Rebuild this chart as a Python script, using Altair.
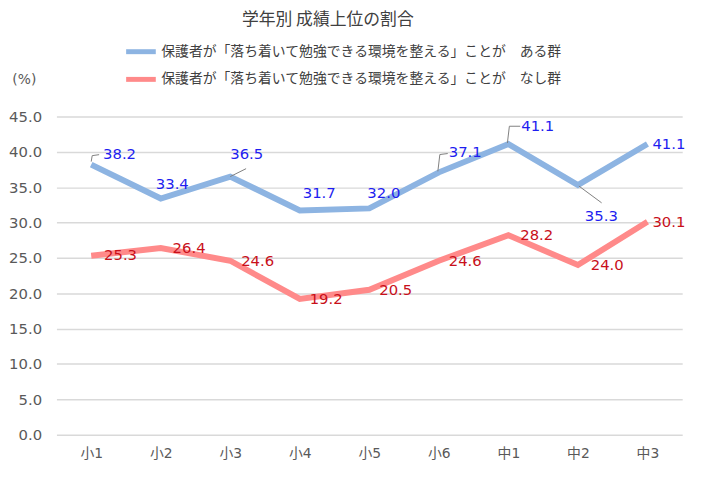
import altair as alt
import pandas as pd

# ---- data ----
categories = ["小1", "小2", "小3", "小4", "小5", "小6", "中1", "中2", "中3"]
ari_values = [38.2, 33.4, 36.5, 31.7, 32.0, 37.1, 41.1, 35.3, 41.1]
nashi_values = [25.3, 26.4, 24.6, 19.2, 20.5, 24.6, 28.2, 24.0, 30.1]
series_names = [
    "保護者が「落ち着いて勉強できる環境を整える」ことが　ある群",
    "保護者が「落ち着いて勉強できる環境を整える」ことが　なし群",
]
y_ticks = [0, 5, 10, 15, 20, 25, 30, 35, 40, 45]
title_text = "学年別 成績上位の割合"

# ---- label placement (pixel offsets from each point) ----
ari_label_offsets = [(12, -11), (-5, -15), (0, -23), (3, -18), (-2, -16),
                     (10, -20), (13, -18), (7, 31), (5, 0)]
nashi_label_offsets = [(13, -1), (12, 0), (11, 0), (10, 0), (10, 0),
                       (10, 0), (12, 0), (13, 0), (5, 0)]
# leader segments: (point index, x1, y1, x2, y2) pixel offsets
ari_leaders = [(0, 0, -3, 1, -9), (0, 1, -9, 8, -10),
               (2, 0, 0, 16, -8),
               (5, -1, -1, 1, -18), (5, 1, -18, 9, -19),
               (6, -1, -1, 1, -18), (6, 1, -18, 12, -18),
               (7, 1, 1, 24, 18)]

FONT = "Noto Sans CJK JP"
NUM_FONT = "DejaVu Sans"
MIX_FONT = "DejaVu Sans, Noto Sans CJK JP"
BLUE_LINE = "#8DB4E2"
RED_LINE = "#FF8A8A"
BLUE_TEXT = "#1E1EF0"
RED_TEXT = "#C8101A"

rows = []
for i, c in enumerate(categories):
    rows.append({"idx": i, "cat": c, "series": series_names[0], "value": ari_values[i]})
    rows.append({"idx": i, "cat": c, "series": series_names[1], "value": nashi_values[i]})
df = pd.DataFrame(rows)

label_expr = "[" + ",".join("'%s'" % c for c in categories) + "][datum.value]"

x_axis = alt.Axis(values=list(range(len(categories))), labelExpr=label_expr, title=None,
                  grid=False, domain=False, ticks=False, labelPadding=12,
                  labelFontSize=14, labelColor="#595959", labelFont=MIX_FONT)
y_axis = alt.Axis(values=y_ticks, format=".1f", title="(%)", titleAngle=0,
                  titleX=-33, titleY=-37, titleAlign="center", titleBaseline="middle",
                  titleFontSize=14, titleFontWeight="normal", titleColor="#595959",
                  titleFont=NUM_FONT, domain=False, ticks=False, labelPadding=15,
                  labelFontSize=15, labelColor="#595959", labelFont=NUM_FONT,
                  gridColor="#D9D9D9", gridWidth=1.5, labelOverlap=False)
x_scale = alt.Scale(domain=[-0.5, len(categories) - 0.5], nice=False, zero=False)
y_scale = alt.Scale(domain=[0, 45], nice=False)


def X():
    return alt.X("idx:Q", scale=x_scale, axis=x_axis)


def Y():
    return alt.Y("value:Q", scale=y_scale, axis=y_axis)


lines = alt.Chart(df).mark_line(strokeWidth=6).encode(
    x=X(),
    y=Y(),
    color=alt.Color("series:N", scale=alt.Scale(domain=series_names, range=[BLUE_LINE, RED_LINE]),
                    legend=alt.Legend(title=None, orient="none", legendX=68, legendY=-83,
                                      symbolType="stroke", symbolSize=900, symbolStrokeWidth=5,
                                      labelFontSize=14, labelFont=FONT, labelColor="#404040",
                                      labelLimit=0, rowPadding=-5, labelOffset=3)),
    detail="series:N",
)

layers = [lines]

for (i, a, b, c, d) in ari_leaders:
    seg = pd.DataFrame([{"idx": i, "value": ari_values[i]}])
    layers.append(alt.Chart(seg).mark_rule(color="#7F7F7F", strokeWidth=1,
                                           xOffset=a, yOffset=b, x2Offset=c, y2Offset=d).encode(
        x=X(), y=Y(), x2="idx:Q", y2="value:Q"))

for vals, offs, col in [(ari_values, ari_label_offsets, BLUE_TEXT),
                        (nashi_values, nashi_label_offsets, RED_TEXT)]:
    for i, v in enumerate(vals):
        one = pd.DataFrame([{"idx": i, "value": v}])
        layers.append(alt.Chart(one).mark_text(
            align="left", baseline="middle", dx=offs[i][0], dy=offs[i][1],
            fontSize=15, font=NUM_FONT, color=col).encode(
            x=X(), y=Y(), text=alt.Text("value:Q", format=".1f")))

chart = alt.layer(*layers).properties(
    width=633, height=322,
    title=alt.TitleParams(title_text, fontSize=17, font=FONT, fontWeight="normal",
                          color="#404040", anchor="middle", dx=-42, offset=6),
    autosize=alt.AutoSizeParams(type="none"),
    padding={"left": 49, "top": 107, "right": 18, "bottom": 38},
    background="white",
).configure_view(stroke=None)

chart.save("out.html", embed_options={"renderer": "svg", "actions": False})
